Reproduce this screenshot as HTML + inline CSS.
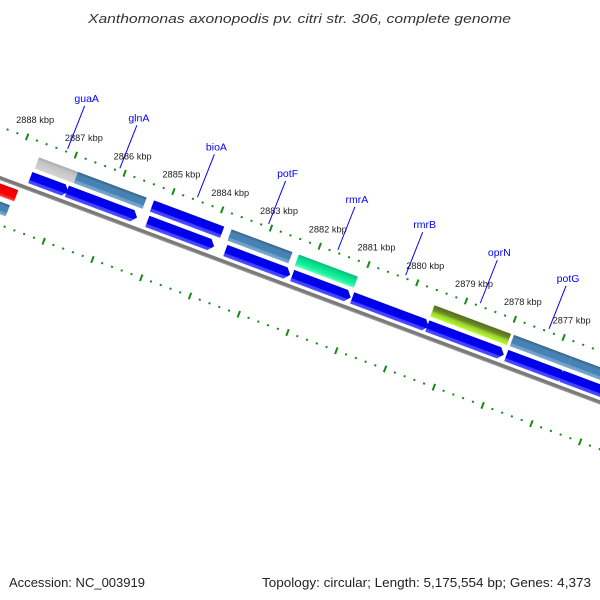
<!DOCTYPE html>
<html><head><meta charset="utf-8"><style>
html,body{margin:0;padding:0;background:#fff;}
svg{display:block;font-family:"Liberation Sans","DejaVu Sans",sans-serif;}
</style></head><body>
<svg id="map" width="600" height="600" viewBox="0 0 600 600">
<defs>
<linearGradient id="gBlue" x1="0" y1="0" x2="0" y2="1"><stop offset="0" stop-color="#0000e0"/><stop offset="0.7" stop-color="#0000f5"/><stop offset="0.72" stop-color="#3c3cff"/><stop offset="1" stop-color="#5050ff"/></linearGradient>
<linearGradient id="gSteel" x1="0" y1="0" x2="0" y2="1"><stop offset="0" stop-color="#35607f"/><stop offset="0.25" stop-color="#4682b4"/><stop offset="0.7" stop-color="#4682b4"/><stop offset="0.72" stop-color="#6a9cc8"/><stop offset="1" stop-color="#7aa8d0"/></linearGradient>
<linearGradient id="gGray" x1="0" y1="0" x2="0" y2="1"><stop offset="0" stop-color="#a8a8a8"/><stop offset="0.3" stop-color="#c4c4c4"/><stop offset="1" stop-color="#d4d4d4"/></linearGradient>
<linearGradient id="gGreen" x1="0" y1="0" x2="0" y2="1"><stop offset="0" stop-color="#14b87a"/><stop offset="0.3" stop-color="#00e08c"/><stop offset="0.72" stop-color="#20f0a0"/><stop offset="1" stop-color="#60ffc0"/></linearGradient>
<linearGradient id="gOlive" x1="0" y1="0" x2="0" y2="1"><stop offset="0" stop-color="#556b1f"/><stop offset="0.4" stop-color="#6b8e23"/><stop offset="0.6" stop-color="#9acd32"/><stop offset="1" stop-color="#b8ff30"/></linearGradient>
<linearGradient id="gRed" x1="0" y1="0" x2="0" y2="1"><stop offset="0" stop-color="#e00000"/><stop offset="0.7" stop-color="#ff0000"/><stop offset="1" stop-color="#ff5050"/></linearGradient>
</defs>
<text x="88" y="23" textLength="423" lengthAdjust="spacingAndGlyphs" font-size="13" font-style="italic" fill="#333">Xanthomonas axonopodis pv. citri str. 306, complete genome</text>
<g id="strip" transform="translate(0,178) rotate(20.5)"></g>
<g id="labels"></g>
<text x="9" y="587" textLength="136" lengthAdjust="spacingAndGlyphs" font-size="13" fill="#222">Accession: NC_003919</text>
<text x="262" y="587" textLength="329" lengthAdjust="spacingAndGlyphs" font-size="13" fill="#222">Topology: circular; Length: 5,175,554 bp; Genes: 4,373</text>
</svg>
<script>
// data (kbp)
const tickKbp = [2890,2889,2888,2887,2886,2885,2884,2883,2882,2881,2880,2879,2878,2877,2876,2875,2874];
const labelKbp = [2888,2887,2886,2885,2884,2883,2882,2881,2880,2879,2878,2877];
const cdsStart = [2887.67,2886.92,2885.27,2883.67,2882.30,2881.07,2879.53,2877.91,2876.78];
const cdsEnd   = [2886.89,2885.48,2883.90,2882.34,2881.10,2879.50,2877.96,2876.71,2874.50];
const cogStart = [2887.65,2886.85,2885.29,2883.70,2882.32,2879.54,2877.91,2876.73];
const cogEnd   = [2886.85,2885.44,2883.85,2882.45,2881.11,2877.97,2876.73,2874.50];
const cogColor = ['gGray','gSteel','gBlue','gSteel','gGreen','gOlive','gSteel','gSteel'];
const revStart = [2889.5,2889.5];
const revEnd   = [2887.80,2887.85];
const revColor = ['gRed','gSteel'];
const geneNames = ['guaA','glnA','bioA','potF','rmrA','rmrB','oprN','potG'];
const geneKbp = [2887.19,2886.12,2884.53,2883.07,2881.65,2880.26,2878.73,2877.32];

const NS='http://www.w3.org/2000/svg';
const SCALE=52.07, U0=11, K0=2888;
const A=20.5*Math.PI/180, C=Math.cos(A), S=Math.sin(A);
function u(k){return U0+(K0-k)*SCALE;}
function toXY(uu,v){return [uu*C - v*S, 178 + uu*S + v*C];}
const strip=document.getElementById('strip');
const labels=document.getElementById('labels');
function mk(tag,attrs,parent){const e=document.createElementNS(NS,tag);for(const k in attrs)e.setAttribute(k,attrs[k]);parent.appendChild(e);return e;}

let bb=mk('rect',{x:-200,y:-2,width:1200,height:4,fill:'#7a7a7a'},strip);


mk('rect',{x:-200,y:1,width:1200,height:1,fill:'#999'},strip);

[[-48,'outer'],[44,'inner']].forEach(([v,nm])=>{
  for(let i=0;i<tickKbp.length-1;i++){
    const k=tickKbp[i];
    const t=mk('rect',{x:u(k)-1,y:v-3.5,width:2,height:7,fill:'#168a16'},strip);
    
    
    for(let j=1;j<5;j++){
      const d=mk('rect',{x:u(k-j*0.2)-1,y:v-1,width:2,height:2,fill:'#168a16'},strip);
      
      
    }
  }
});

cogStart.forEach((s,i)=>{
  const r=mk('rect',{x:u(s),y:-33,width:u(cogEnd[i])-u(s),height:12,fill:'url(#'+cogColor[i]+')'},strip);
  
  
});
cdsStart.forEach((s,i)=>{
  const a=u(s), b=u(cdsEnd[i]);
  const p=mk('path',{d:`M${a},-17 L${b-5},-17 L${b},-11 L${b-5},-5 L${a},-5 Z`,fill:'url(#gBlue)'},strip);
  
  
});
revStart.forEach((s,i)=>{
  const r=mk('rect',{x:u(s),y:i===0?5:22,width:u(revEnd[i])-u(s),height:12,fill:'url(#'+revColor[i]+')'},strip);
  
  
});

labelKbp.forEach(k=>{
  const [x,y]=toXY(u(k),-48);
  const t=mk('text',{x:x-11,y:y-14,'font-size':9,fill:'#222',textLength:38,lengthAdjust:'spacingAndGlyphs'},labels);
  t.textContent=k+' kbp';
  
  
});
geneNames.forEach((g,i)=>{
  const [x1,y1]=toXY(u(geneKbp[i]),-51);
  const x2=x1+17, y2=y1-43;
  const l=mk('line',{x1:x1,y1:y1,x2:x2,y2:y2,stroke:'#0000ff','stroke-width':1},labels);
  
  
  const t=mk('text',{x:x2+2,y:y2-4,'font-size':10.5,fill:'#0000ff','text-anchor':'middle'},labels);
  t.textContent=g;
  
  
});
</script>
</body></html>
